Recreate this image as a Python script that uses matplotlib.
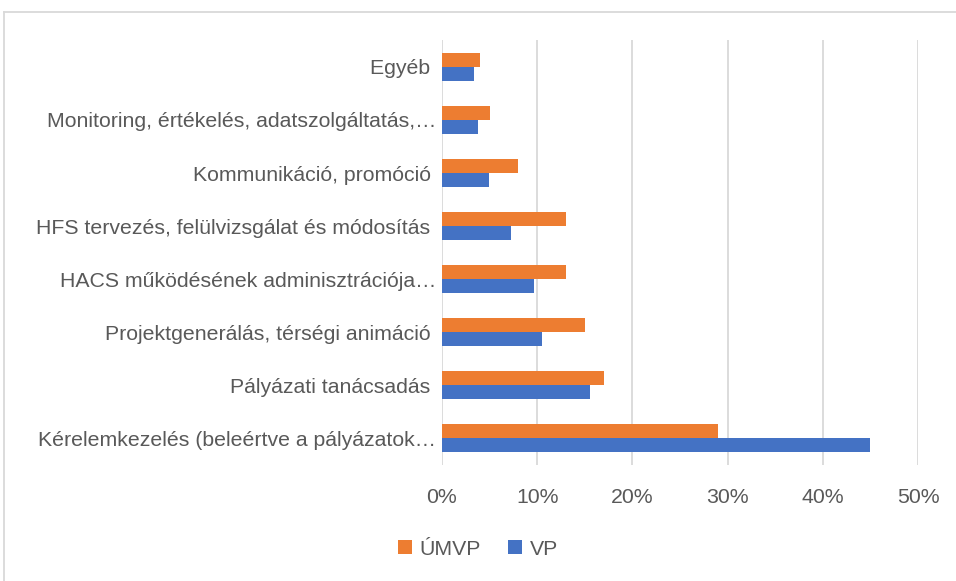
import numpy as np
import matplotlib
matplotlib.use('Agg')
import matplotlib.pyplot as plt
from matplotlib.lines import Line2D
from matplotlib.ticker import FuncFormatter

# kategóriák fentről lefelé
kategoriak = ['Egyéb ',
              'Monitoring, értékelés, adatszolgáltatás,…',
              'Kommunikáció, promóció ',
              'HFS tervezés, felülvizsgálat és módosítás ',
              'HACS működésének adminisztrációja…',
              'Projektgenerálás, térségi animáció ',
              'Pályázati tanácsadás ',
              'Kérelemkezelés (beleértve a pályázatok…']
umvp = [4, 5, 8, 13, 13, 15, 17, 29]
vp = [3.4, 3.8, 4.9, 7.2, 9.7, 10.5, 15.5, 45]
sorozatok = ['ÚMVP', 'VP']

plt.rcParams['font.family'] = ['Liberation Sans', 'DejaVu Sans']
szurke = '#595959'
meret = 15.3

fig = plt.figure(figsize=(9.56, 5.81), dpi=100)
ax = fig.add_axes([0.4623, 0.2005, 0.4980, 0.7298])

y = np.arange(len(kategoriak))
h = 0.26
ax.barh(y - h/2, umvp, height=h, color='#ED7D31', label=sorozatok[0], zorder=3)
ax.barh(y + h/2, vp, height=h, color='#4472C4', label=sorozatok[1], zorder=3)

ax.set_xlim(0, 50)
ax.set_ylim(len(kategoriak) - 0.5, -0.5)
ax.set_xticks(np.arange(0, 51, 10))
ax.xaxis.set_major_formatter(FuncFormatter(lambda v, p: '%d%%' % v))
ax.set_yticks(y)
ax.set_yticklabels(kategoriak)
ax.tick_params(axis='both', length=0, labelsize=meret, colors=szurke)
ax.tick_params(axis='x', pad=17)
ax.tick_params(axis='y', pad=4)
ax.grid(axis='x', color='#D9D9D9', linewidth=1.3, zorder=0)
for s in ax.spines.values():
    s.set_visible(False)

leg = fig.legend(loc='center', bbox_to_anchor=(0.5, 0.055), ncol=2, frameon=False,
                 fontsize=meret, handlelength=0.65, handleheight=0.65,
                 handletextpad=0.35, columnspacing=1.3)
for t in leg.get_texts():
    t.set_color(szurke)

# keret
fig.add_artist(Line2D([4/956, 1], [1 - 12/581, 1 - 12/581], transform=fig.transFigure, color='#D9D9D9', lw=1.3))
fig.add_artist(Line2D([4/956, 4/956], [0, 1 - 12/581], transform=fig.transFigure, color='#D9D9D9', lw=1.3))

fig.savefig('out.png', dpi=100)
